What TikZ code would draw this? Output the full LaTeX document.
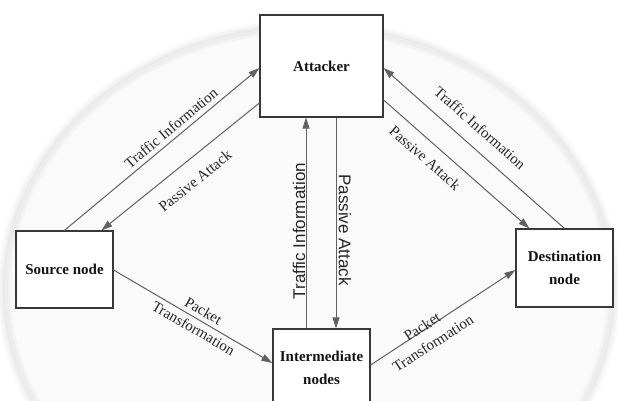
\documentclass[tikz,border=0pt]{standalone}
\usepackage{fontspec}
\setmainfont{Liberation Serif}
\setsansfont{Liberation Sans}
\usetikzlibrary{arrows.meta}
\begin{document}
\begin{tikzpicture}[x=1pt,y=-1pt,
  box/.style={draw=black!78, line width=1.2pt, fill=white, align=center, text=black!92,
    inner sep=0pt, font=\fontsize{15}{23}\selectfont\bfseries},
  conn/.style={draw=black!62, line width=1pt, -{Triangle[length=11pt,width=7pt]}},
  lbl/.style={font=\fontsize{15}{20}\selectfont, text=black!85, inner sep=0pt, align=center},
  vlbl/.style={font=\sffamily\fontsize{17}{19}\selectfont, text=black!85, inner sep=0pt},
  glow/.style={draw=gray, opacity=0.045}]
\useasboundingbox (0,0) rectangle (618,401);
% faint background halo
\fill[gray!4] (309,290) ellipse [x radius=303pt, y radius=262pt];
\foreach \w in {2,5,9,14}{
  \draw[glow, line width=\w pt] (309,290) ellipse [x radius=305pt, y radius=264pt];
}
% boxes
\node[box, minimum width=123pt, minimum height=102pt] (att) at (321.5,66) {Attacker};
\node[box, minimum width=97pt, minimum height=77pt] (src) at (64.5,269.5) {Source node};
\node[box, minimum width=97pt, minimum height=77pt] (int) at (321.5,367.5) {Intermediate\\nodes};
\node[box, minimum width=97pt, minimum height=78pt] (dst) at (564.5,268) {Destination\\node};
% connectors
\draw[conn] ([xshift=49pt]src.north west) -- ([yshift=-2pt]att.west);
\draw[conn] ([yshift=-37pt]att.west) -- ([xshift=86pt]src.north west);
\draw[conn] ([xshift=-15.5pt]int.north) -- ([xshift=-15.5pt]att.south);
\draw[conn] ([xshift=14.5pt]att.south) -- ([xshift=14.5pt]int.north);
\draw[conn] ([yshift=-34pt]att.east) -- ([xshift=14pt]dst.north west);
\draw[conn] ([xshift=49pt]dst.north west) -- ([yshift=-2pt]att.east);
\draw[conn] ([yshift=-0.5pt]src.east) -- ([yshift=4.5pt]int.west);
\draw[conn] ([yshift=2.5pt]int.east) -- ([yshift=-2pt]dst.west);
% labels
\node[lbl, rotate=39.9] (l1) at (171,128) {Traffic Information};
\node[lbl, rotate=39] (l2) at (195,181) {Passive Attack};
\node[vlbl, rotate=90] (l3) at (299,231) {Traffic Information};
\node[vlbl, rotate=-90] (l4) at (345,230) {Passive Attack};
\node[lbl, rotate=-41.3] (l5) at (425,158) {Passive Attack};
\node[lbl, rotate=-41.5] (l6) at (480,128) {Traffic Information};
\node[lbl, rotate=-30] (l7) at (198.5,319.5) {Packet\\Transformation};
\node[lbl, rotate=33] (l8) at (427.5,335) {Packet\\Transformation};
\end{tikzpicture}
\end{document}
